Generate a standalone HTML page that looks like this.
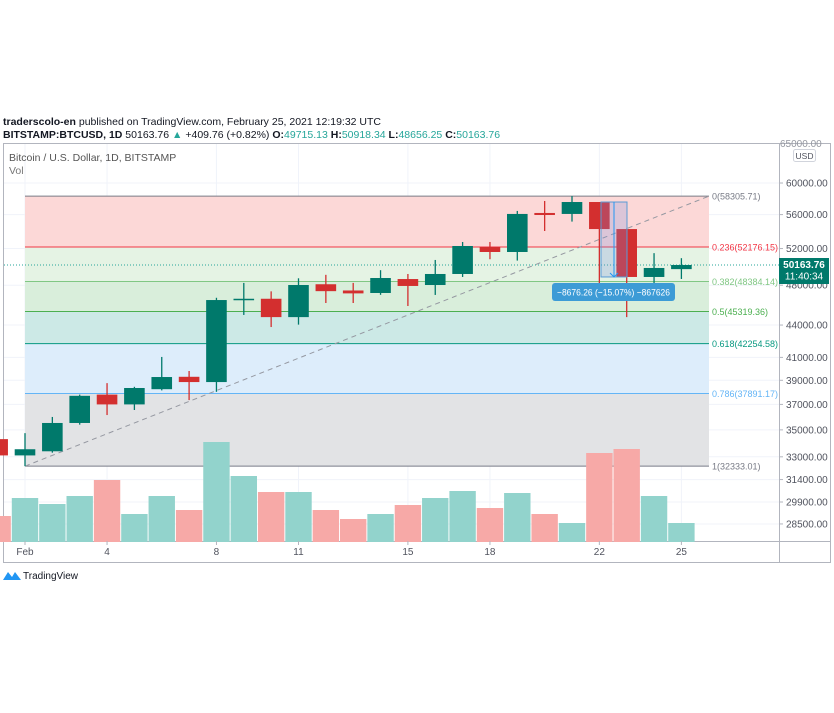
<!DOCTYPE html>
<html><head><meta charset="utf-8">
<style>
body{margin:0;background:#fff;width:834px;height:713px;overflow:hidden;font-family:"Liberation Sans",sans-serif;}
.hdr{position:absolute;left:3px;font-size:10.5px;color:#131722;white-space:nowrap}
</style></head>
<body>
<div class="hdr" style="top:116px"><b>traderscolo-en</b> published on TradingView.com, February 25, 2021 12:19:32 UTC</div>
<div class="hdr" style="top:129px"><b>BITSTAMP:BTCUSD, 1D</b> 50163.76 <span style="color:#26a69a">▲</span> +409.76 (+0.82%) <b>O:</b><span style="color:#26a69a">49715.13</span> <b>H:</b><span style="color:#26a69a">50918.34</span> <b>L:</b><span style="color:#26a69a">48656.25</span> <b>C:</b><span style="color:#26a69a">50163.76</span></div>
<svg id="chart" width="834" height="713" style="position:absolute;left:0;top:0"></svg>
<script>
const days=[0,1,2,3,4,5,6,7,8,9,10,11,12,13,14,15,16,17,18,19,20,21,22,23,24,25];
const opens=[34300,33100,33400,35530,37800,37000,38250,39300,38850,46470,46600,44770,48100,47450,47190,48650,48020,49190,52170,51610,56200,56080,57560,54260,48870,49715.13];
const highs=[34500,34750,36000,37800,38760,38450,41040,39800,46700,48240,47360,48730,49100,48240,49600,49190,50720,52750,52750,56450,57690,58305.71,57560,54300,51480,50918.34];
const lows=[32900,32333.01,33300,35400,36150,36550,38150,37350,38030,44980,43810,44040,46170,46170,47000,45870,46990,48870,50800,50650,54030,55150,47400,44770,48000,48656.25];
const closes=[33100,33550,35530,37700,37000,38350,39280,38850,46470,46600,44770,48020,47380,47150,48760,47920,49190,52290,51610,56080,55950,57560,54260,48870,49840,50163.76];
const volumes=[26,44,38,46,62,28,46,32,100,66,50,50,32,23,28,37,44,51,34,49,28,19,89,93,46,19];
const priceTicks=[60000,56000,52000,48000,44000,41000,39000,37000,35000,33000,31400,29900,28500];
const dateTicks=[1,4,8,11,15,18,22,25];
const dateLabels=["Feb","4","8","11","15","18","22","25"];
const fibRatios=[0,0.236,0.382,0.5,0.618,0.786,1];
const fibHigh=58305.71, fibLow=32333.01;
const lastPrice=50163.76;

const NS="http://www.w3.org/2000/svg";
const svg=document.getElementById('chart');
function X(d){return 25+(d-1)*27.35;}
function Y(p){return 183+(Math.log(60000)-Math.log(p))*458;}
function V(v){return 542-v;}
function mk(tag,a,parent){const e=document.createElementNS(NS,tag);for(const k in a)e.setAttribute(k,a[k]);(parent||svg).appendChild(e);return e;}
function txt(x,y,s,a){const e=mk('text',Object.assign({x:x,y:y,'font-size':'10','font-family':'Liberation Sans, sans-serif'},a));e.textContent=s;return e;}

const f=mk('rect',{x:3.5,y:143.5,width:827,height:419,fill:'none',stroke:'#b2b5be'});


mk('line',{x1:779.5,y1:143,x2:779.5,y2:563,stroke:'#b2b5be'});
mk('line',{x1:3,y1:541.5,x2:831,y2:541.5,stroke:'#b2b5be'});
priceTicks.forEach(p=>{mk('line',{x1:4,x2:779,y1:Y(p),y2:Y(p),stroke:'#f0f3fa'});});
dateTicks.forEach(d=>{mk('line',{x1:X(d),x2:X(d),y1:144,y2:541,stroke:'#f0f3fa'});});

const zoneFill=['#fcd8d7','#e5f3e4','#d9eedb','#cce9e6','#ddedfb','#e2e3e5'];
const lineCol=['#787b86','#f23645','#81c784','#4caf50','#089981','#64b5f6','#787b86'];
const fibX1=25,fibX2=709;
function fibPrice(r){return fibHigh-r*(fibHigh-fibLow);}
for(let i=0;i<fibRatios.length-1;i++){
  const y1=Y(fibPrice(fibRatios[i])),y2=Y(fibPrice(fibRatios[i+1]));
  const z=mk('rect',{x:fibX1,y:y1,width:fibX2-fibX1,height:y2-y1,fill:zoneFill[i]});
  
  
}
fibRatios.forEach((r,i)=>{
  const p=fibPrice(r),y=Y(p);
  mk('line',{x1:fibX1,x2:fibX2,y1:y,y2:y,stroke:lineCol[i],'stroke-width':1});
  const t=txt(712,y+3.5,r+'('+p.toFixed(2)+')',{fill:lineCol[i],'font-size':'9'});
  
  
});
const tl=mk('line',{x1:X(1),y1:Y(fibLow),x2:fibX2,y2:Y(fibHigh),stroke:'#9598a1','stroke-dasharray':'5,4','stroke-width':1});



days.forEach((d,i)=>{
  const up=closes[i]>=opens[i];
  const b=mk('rect',{x:X(d)-13.2,y:V(volumes[i]),width:26.4,height:volumes[i],fill:up?'#92d3cc':'#f7a9a7'});
  
  
});
mk('line',{x1:4,x2:779,y1:Y(lastPrice),y2:Y(lastPrice),stroke:'#26a69a','stroke-dasharray':'1,2'});

days.forEach((d,i)=>{
  const up=closes[i]>=opens[i];const c=up?'#00796b':'#d32f2f';
  const g=mk('g',{});
  
  
  mk('line',{x1:X(d),x2:X(d),y1:Y(highs[i]),y2:Y(lows[i]),stroke:c,'stroke-width':1.3},g);
  const t=Y(Math.max(opens[i],closes[i])),b=Y(Math.min(opens[i],closes[i]));
  mk('rect',{x:X(d)-10.3,y:t,width:20.6,height:Math.max(b-t,1.5),fill:c},g);
});

const m1=Y(57560),m2=Y(48870);
const mr=mk('rect',{x:601,y:m1,width:26,height:m2-m1,fill:'rgba(120,140,220,0.25)',stroke:'#5b9bd5','stroke-width':1});


mk('line',{x1:614,x2:614,y1:m1,y2:m2,stroke:'#2196f3'});
mk('path',{d:'M610 '+(m2-4)+' L614 '+m2+' L618 '+(m2-4),fill:'none',stroke:'#2196f3'});
const lb=mk('rect',{x:552,y:283,width:123,height:18,rx:3,fill:'#3d9bd6'});


txt(557,295.5,'−8676.26 (−15.07%) −867626',{fill:'#fff','font-size':'9.3',textLength:'113',lengthAdjust:'spacingAndGlyphs'});

priceTicks.forEach(p=>{
  mk('line',{x1:779,x2:783,y1:Y(p),y2:Y(p),stroke:'#b2b5be'});
  const t=txt(786,Y(p)+3.5,p.toFixed(2),{fill:'#50535e'});
  
  
});
const pb=mk('rect',{x:779,y:Y(lastPrice)-7,width:50,height:26,fill:'#00796b'});


txt(804,Y(lastPrice)+3,'50163.76',{fill:'#fff','text-anchor':'middle','font-weight':'bold'});
txt(804,Y(lastPrice)+14.5,'11:40:34',{fill:'#fff','text-anchor':'middle'});
const ub=mk('rect',{x:793.5,y:149.5,width:22,height:12,rx:2,fill:'#fff',stroke:'#d1d4dc'});


txt(804.5,159,'USD',{fill:'#50535e','text-anchor':'middle','font-size':'8.5'});
txt(780,147,'65000.00',{fill:'#9598a1'});
dateTicks.forEach((d,i)=>{
  mk('line',{x1:X(d),x2:X(d),y1:541,y2:545,stroke:'#b2b5be'});
  const t=txt(X(d),555,dateLabels[i],{fill:'#50535e','text-anchor':'middle'});
  
  
});
txt(9,161,'Bitcoin / U.S. Dollar, 1D, BITSTAMP',{fill:'#555','font-size':'10.5'});
txt(9,174,'Vol',{fill:'#777','font-size':'10.5'});
const lg=mk('g',{});


mk('path',{d:'M3 580 L8 572 L12 577 L15 572 L21 580 Z',fill:'#2196f3'},lg);
txt(23,579,'TradingView',{fill:'#131722','font-size':'10'});
</script>
</body></html>
